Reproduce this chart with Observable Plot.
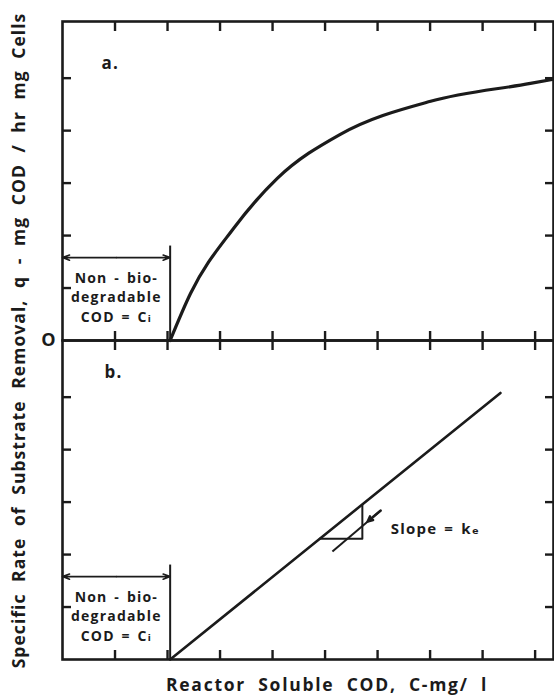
<!DOCTYPE html>
<html><head><meta charset="utf-8">
<script src="https://cdn.jsdelivr.net/npm/d3@7"></script>
<script src="https://cdn.jsdelivr.net/npm/@observablehq/plot@0.6"></script>
<style>
html,body{margin:0;padding:0;background:#fff;}
#chart svg{display:block;}
</style></head><body><div id="chart"></div>
<script>
// ---- data ----
const panels = ["a", "b"];
const panelLabelC = [0.91, 0.97];
const panelLabelQ = [5.28, 5.46];
const xTicks = [1, 2, 3, 4, 5, 6, 7, 8, 9];
const yTicks = [1, 2, 3, 4, 5];
const Ci = 2.05;                       // non-biodegradable COD
const curveC = [2.05, 2.44, 3.26, 4.09, 5.29, 7.01, 8.91, 9.35];
const curveQ = [0, 0.90, 2.14, 3.09, 3.93, 4.56, 4.90, 4.98];
const lineC = [2.05, 8.34];
const lineQ = [0, 5.08];
const boxArrowQ = 1.58;
const boxLineTopQ = 1.8;
const boxTextQ = 0.85;
const boxLabel = "Non - bio-\ndegradable\nCOD = C\u1d62";
const triC = [4.9, 5.71, 5.71];
const triQ = [2.3, 2.3, 2.95];
const pointerC = [5.14, 6.06];
const pointerQ = [2.06, 2.84];
const pointerHeadC = [6.06, 5.81];
const pointerHeadQ = [2.84, 2.63];
const slopeC = 6.25, slopeQ = 2.49;
const slopeLabel = "Slope = k\u2091";
const zeroLabel = "O";
const yLabel = "Specific Rate of Substrate Removal, q - mg COD / hr mg Cells";
const xLabel = "Reactor Soluble COD, C-mg/ l";

// ---- tables ----
const ink = "#1b1b1b";
const curveA = curveC.map((c, i) => ({panel: "a", C: c, q: curveQ[i]}));
const lineB = lineC.map((c, i) => ({panel: "b", C: c, q: lineQ[i]}));
const triB = triC.map((c, i) => ({panel: "b", C: c, q: triQ[i]}));
const boxLines = panels.map(p => ({panel: p, C: Ci}));
const boxArrows = panels.flatMap(p => [
  {panel: p, x1: Ci / 2, x2: 0},
  {panel: p, x1: Ci / 2, x2: Ci}
]);
const panelLabels = panels.map((p, i) => ({panel: p, C: panelLabelC[i], q: panelLabelQ[i], text: p + "."}));
const font = "'Open Sans', 'DejaVu Sans', sans-serif";

const plot = Plot.plot({
  width: 554,
  height: 698,
  marginTop: 20,
  marginBottom: 39,
  marginLeft: 62,
  marginRight: 1,
  x: {domain: [0, 9.35]},
  y: {domain: [0, 6.08]},
  fy: {domain: panels, padding: 0, axis: null},
  style: {fontFamily: font, color: ink, background: "#fff", letterSpacing: "1.2px", wordSpacing: "2px"},
  marks: [
    Plot.frame({stroke: ink, strokeWidth: 2.6}),
    Plot.axisX(xTicks, {anchor: "bottom", tickSize: -9, facetAnchor: null, fill: "none", label: null, stroke: ink, strokeWidth: 2.4}),
    Plot.axisX(xTicks, {anchor: "top", tickSize: -9, facetAnchor: null, fill: "none", label: null, stroke: ink, strokeWidth: 2.4}),
    Plot.axisY(yTicks, {anchor: "left", tickSize: -9, facetAnchor: null, fill: "none", label: null, stroke: ink, strokeWidth: 2.4}),
    Plot.axisY(yTicks, {anchor: "right", tickSize: -9, facetAnchor: null, fill: "none", label: null, stroke: ink, strokeWidth: 2.4}),
    // non-biodegradable box
    Plot.ruleX(boxLines, {x: "C", y1: 0, y2: boxLineTopQ, fy: "panel", stroke: ink, strokeWidth: 2}),
    Plot.arrow(boxArrows, {x1: "x1", x2: "x2", y1: boxArrowQ, y2: boxArrowQ, fy: "panel", stroke: ink, strokeWidth: 1.6, headLength: 7, headAngle: 40}),
    Plot.text(panels.map(p => ({panel: p})), {x: Ci / 2, y: boxTextQ, fy: "panel", text: () => boxLabel, fontSize: 14, fontWeight: 700, lineHeight: 1.4, fill: ink}),
    // curves
    Plot.line(curveA, {x: "C", y: "q", fy: "panel", curve: "monotone-x", stroke: ink, strokeWidth: 3.2}),
    Plot.line(lineB, {x: "C", y: "q", fy: "panel", stroke: ink, strokeWidth: 2.6}),
    Plot.line(triB, {x: "C", y: "q", fy: "panel", stroke: ink, strokeWidth: 2}),
    Plot.link([{panel: "b"}], {x1: () => pointerC[0], y1: () => pointerQ[0], x2: () => pointerC[1], y2: () => pointerQ[1], fy: "panel", stroke: ink, strokeWidth: 2}),
    Plot.arrow([{panel: "b"}], {x1: () => pointerHeadC[0], y1: () => pointerHeadQ[0], x2: () => pointerHeadC[1], y2: () => pointerHeadQ[1], fy: "panel", stroke: ink, strokeWidth: 2.4, headLength: 8, headAngle: 50}),
    Plot.text([{panel: "b"}], {x: () => slopeC, y: () => slopeQ, fy: "panel", text: () => slopeLabel, textAnchor: "start", fontSize: 15, fontWeight: 700, fill: ink}),
    // panel letters
    Plot.text(panelLabels, {x: "C", y: "q", fy: "panel", text: "text", fontSize: 17, fontWeight: 700, fill: ink}),
    // zero label
    Plot.text([{panel: "a"}], {y: () => 0, frameAnchor: "left", textAnchor: "middle", dx: -13.5, fy: "panel", text: () => zeroLabel, fontSize: 18, fontWeight: 700, fill: ink}),
    // axis titles
    Plot.text([yLabel], {facet: "super", frameAnchor: "left", textAnchor: "middle", lineAnchor: "middle", dx: -43, rotate: -90, text: d => d, fontSize: 17.5, fontWeight: 700, fill: ink}),
    Plot.text([xLabel], {facet: "super", frameAnchor: "bottom", textAnchor: "middle", lineAnchor: "middle", dx: 19, dy: 26, text: d => d, fontSize: 17.5, fontWeight: 700, fill: ink})
  ]
});

document.getElementById("chart").appendChild(plot);

// stretch the two axis titles to the lettered span of the original (spacing only)
function fitSpan(el, target) {
  el.style.wordSpacing = "6px";
  el.style.letterSpacing = "0px";
  const n = el.textContent.length;
  const w = el.getBBox().width;
  el.style.letterSpacing = ((target - w) / n) + "px";
}
d3.select(plot).selectAll("text").each(function () {
  const t = this.textContent;
  if (t === yLabel) fitSpan(this, 656);
  if (t === xLabel) fitSpan(this, 322);
});
</script></body></html>
